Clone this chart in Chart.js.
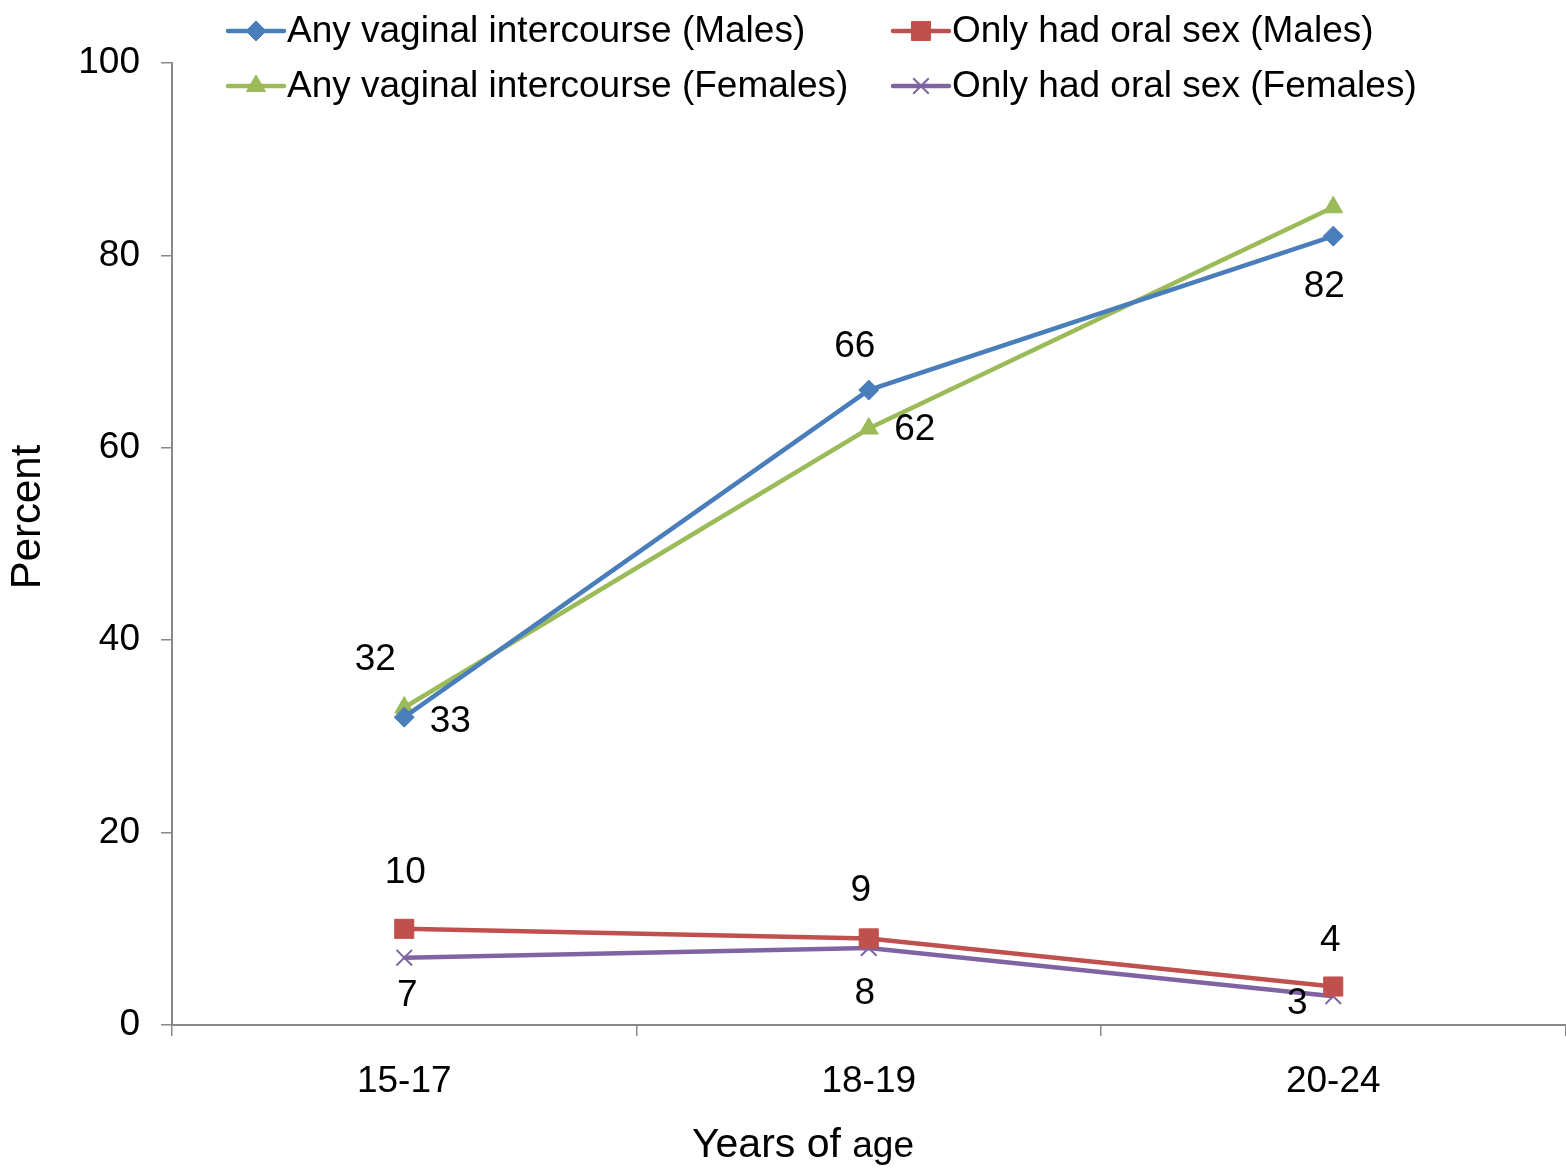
<!DOCTYPE html>
<html>
<head>
<meta charset="utf-8">
<script src="https://cdn.jsdelivr.net/npm/chart.js@4"></script>
<style>
  html, body { margin: 0; padding: 0; background: #fff; overflow: hidden; }
  /* a bit wider than the window: chart.js keeps ~14px spare on the right, let it fall off-screen */
  #wrap { width: 1580px; height: 1174px; }
  canvas { display: block; }
</style>
</head>
<body>
<div id="wrap"><canvas id="chart"></canvas></div>
<script>
// data
const ageGroups = ['15-17', '18-19', '20-24'];
const vaginalMales = [32, 66, 82];
const vaginalFemales = [33, 62, 85];
const oralMales = [10, 9, 4];
const oralFemales = [7, 8, 3];
const yTicks = [0, 20, 40, 60, 80, 100];

const FONT = '"Liberation Sans", Arial, sans-serif';

// where each value label sits relative to its point (null = no label)
const labelOffsets = [
  [[-29, -57], [-14, -43], [-9, 51]],
  [[46, 14], [46, 1], null],
  [[1, -56], [-8, -48], [-3, -46]],
  [[3, 38], [-4, 46], [-36, 8]]
];

// legend slots: [x of line start, y]
const legendSlots = [[228, 31], [228, 86], [893, 31], [893, 86]];

const valueLabels = {
  id: 'valueLabels',
  afterDatasetsDraw(chart) {
    const ctx = chart.ctx;
    ctx.save();
    ctx.font = '37px ' + FONT;
    ctx.fillStyle = '#000';
    ctx.textAlign = 'center';
    ctx.textBaseline = 'middle';
    chart.data.datasets.forEach((ds, i) => {
      chart.getDatasetMeta(i).data.forEach((pt, j) => {
        const off = labelOffsets[i][j];
        if (!off) return;
        ctx.fillText(String(ds.data[j]), pt.x + off[0], pt.y + off[1]);
      });
    });
    ctx.restore();
  }
};

const customLegend = {
  id: 'customLegend',
  afterDraw(chart) {
    const ctx = chart.ctx;
    ctx.save();
    chart.data.datasets.forEach((ds, i) => {
      const [x, y] = legendSlots[i];
      ctx.strokeStyle = ds.borderColor;
      ctx.lineWidth = 4.5;
      ctx.lineCap = 'round';
      ctx.beginPath();
      ctx.moveTo(x, y);
      ctx.lineTo(x + 56, y);
      ctx.stroke();
      ctx.lineCap = 'butt';
      ctx.fillStyle = ds.borderColor;
      ctx.lineWidth = ds.pointBorderWidth;
      Chart.helpers.drawPoint(ctx, {
        pointStyle: ds.pointStyle,
        radius: ds.pointRadius,
        borderWidth: ds.pointBorderWidth
      }, x + 28, y);
      ctx.fillStyle = '#000';
      ctx.font = '37px ' + FONT;
      ctx.textAlign = 'left';
      ctx.textBaseline = 'middle';
      ctx.fillText(ds.label, x + 59, y + 1);
    });
    ctx.restore();
  }
};

const axisTitles = {
  id: 'axisTitles',
  afterDraw(chart) {
    const ctx = chart.ctx;
    ctx.save();
    ctx.fillStyle = '#000';
    // x title, "age" is a touch smaller in the original
    ctx.textBaseline = 'alphabetic';
    const a = 'Years of ';
    ctx.font = '41px ' + FONT;
    const wa = ctx.measureText(a).width;
    ctx.font = '37px ' + FONT;
    const wb = ctx.measureText('age').width;
    const x0 = 803 - (wa + wb) / 2;
    ctx.textAlign = 'left';
    ctx.font = '41px ' + FONT;
    ctx.fillText(a, x0, 1157);
    ctx.font = '37px ' + FONT;
    ctx.fillText('age', x0 + wa, 1157);
    // y title
    ctx.textBaseline = 'middle';
    ctx.translate(28, 517);
    ctx.rotate(-Math.PI / 2);
    ctx.textAlign = 'center';
    ctx.font = '42px ' + FONT;
    ctx.fillText('Percent', 0, 0);
    ctx.restore();
  }
};

function series(label, data, color, style, radius, bw) {
  return {
    label: label,
    data: data,
    borderColor: color,
    backgroundColor: color,
    borderWidth: 4.5,
    pointStyle: style,
    pointRadius: radius,
    pointHoverRadius: radius,
    pointBackgroundColor: color,
    pointBorderColor: color,
    pointBorderWidth: bw,
    tension: 0,
    fill: false
  };
}

new Chart(document.getElementById('chart'), {
  type: 'line',
  data: {
    labels: ageGroups,
    datasets: [
      series('Any vaginal intercourse (Males)', vaginalMales, '#4A7EBB', 'rectRot', 10, 1),
      series('Any vaginal intercourse (Females)', vaginalFemales, '#9BBB59', 'triangle', 11, 1),
      series('Only had oral sex (Males)', oralMales, '#C0504D', 'rect', 13.5, 1),
      series('Only had oral sex (Females)', oralFemales, '#8064A2', 'crossRot', 11, 2)
    ]
  },
  options: {
    responsive: true,
    maintainAspectRatio: false,
    animation: false,
    events: [],
    layout: { padding: { top: 63, right: 0, left: 0, bottom: 0 } },
    plugins: {
      legend: { display: false },
      tooltip: { enabled: false }
    },
    scales: {
      x: {
        type: 'category',
        offset: true,
        grid: {
          display: true,
          offset: true,
          drawOnChartArea: false,
          drawTicks: true,
          tickLength: 11,
          color: '#888',
          lineWidth: 1.5
        },
        border: { display: true, color: '#888', width: 2 },
        ticks: {
          color: '#000',
          font: { family: FONT, size: 37 },
          padding: 24,
          maxRotation: 0
        },
        afterFit(scale) { scale.height = 149; }
      },
      y: {
        min: 0,
        max: 100,
        afterBuildTicks(scale) { scale.ticks = yTicks.map(v => ({ value: v })); },
        grid: {
          display: true,
          drawOnChartArea: false,
          drawTicks: true,
          tickLength: 11,
          color: '#888',
          lineWidth: 1.5
        },
        border: { display: true, color: '#888', width: 2 },
        ticks: {
          color: '#000',
          font: { family: FONT, size: 37 },
          padding: 21
        },
        afterFit(scale) { scale.width = 172; }
      }
    }
  },
  plugins: [valueLabels, customLegend, axisTitles]
});
</script>
</body>
</html>
